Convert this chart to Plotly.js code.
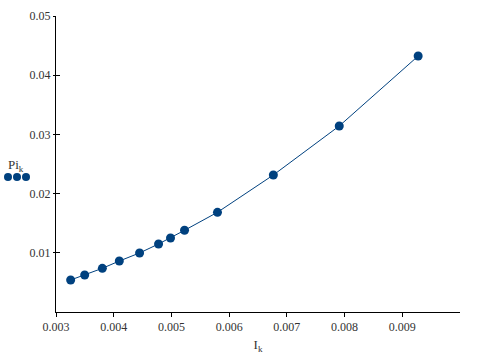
<!DOCTYPE html>
<html>
<head>
<meta charset="utf-8">
<script src="https://cdn.plot.ly/plotly-3.0.1.min.js"></script>
<style>html,body{margin:0;padding:0;background:#fff;}#chart{width:494px;height:360px;}</style>
</head>
<body>
<div id="chart"></div>
<script>
var currentIk = [0.003254, 0.003497, 0.003803, 0.004097, 0.004448, 0.004777, 0.004984, 0.005227, 0.005798, 0.006766, 0.007908, 0.009275];
var powerPik = [0.00541, 0.00625, 0.00738, 0.00861, 0.00997, 0.01149, 0.0125, 0.0138, 0.01684, 0.02314, 0.03142, 0.04324];
var xTicks = [0.003, 0.004, 0.005, 0.006, 0.007, 0.008, 0.009];
var xTickText = ['0.003', '0.004', '0.005', '0.006', '0.007', '0.008', '0.009'];
var yTicks = [0.01, 0.02, 0.03, 0.04, 0.05];
var yTickText = ['0.01', '0.02', '0.03', '0.04', '0.05'];

var blue = '#00417f';
var fontFam = '"Liberation Serif", "Times New Roman", serif';

var trace = {
  x: currentIk, y: powerPik, type: 'scatter', mode: 'lines+markers',
  line: {color: blue, width: 1},
  marker: {color: blue, size: 9},
  showlegend: false, hoverinfo: 'none'
};

var W = 494, H = 360, L = 56, R = 34, T = 16, B = 48;
var pw = W - L - R, ph = H - T - B;
function px2paperX(p) { return (p - L) / pw; }
function px2paperY(p) { return (H - B - p) / ph; }

var dots = [8, 17, 26].map(function (cx) {
  return {
    type: 'circle', xref: 'paper', yref: 'paper',
    xsizemode: 'pixel', ysizemode: 'pixel',
    xanchor: px2paperX(cx), yanchor: px2paperY(177),
    x0: -4, x1: 4, y0: -4, y1: 4,
    fillcolor: blue, line: {width: 0}
  };
});

var layout = {
  width: W, height: H,
  margin: {l: L, r: R, t: T, b: B, pad: 0},
  paper_bgcolor: '#fff', plot_bgcolor: '#fff',
  font: {family: fontFam, size: 12, color: '#333'},
  xaxis: {
    range: [0.003, 0.01], tickvals: xTicks, ticktext: xTickText,
    showgrid: false, zeroline: false, showline: true, linecolor: '#000', linewidth: 1,
    ticks: 'outside', ticklen: 4, tickcolor: '#000', tickwidth: 1,
    tickfont: {family: fontFam, size: 12, color: '#333'},
    title: {text: 'I<sub>k</sub>', font: {family: fontFam, size: 13, color: '#333'}, standoff: 6}
  },
  yaxis: {
    range: [0, 0.05], tickvals: yTicks, ticktext: yTickText,
    showgrid: false, zeroline: false, showline: true, linecolor: '#000', linewidth: 1,
    ticks: 'outside', ticklen: 2, tickcolor: '#000', tickwidth: 1,
    tickfont: {family: fontFam, size: 12, color: '#333'}
  },
  yaxis2: {
    range: [0, 0.05], tickvals: yTicks, overlaying: 'y', side: 'left',
    showgrid: false, zeroline: false, showline: false, showticklabels: false,
    ticks: 'inside', ticklen: 4, tickcolor: '#000', tickwidth: 1
  },
  annotations: [{
    text: 'Pi<sub>k</sub>', xref: 'paper', yref: 'paper',
    x: px2paperX(6), y: px2paperY(165), xanchor: 'left', yanchor: 'middle',
    showarrow: false, font: {family: fontFam, size: 13, color: '#333'}
  }],
  shapes: dots
};

var trace2 = {x: [], y: [], yaxis: 'y2', type: 'scatter', showlegend: false, hoverinfo: 'none'};

Plotly.newPlot('chart', [trace, trace2], layout, {displayModeBar: false, staticPlot: true});
</script>
</body>
</html>
